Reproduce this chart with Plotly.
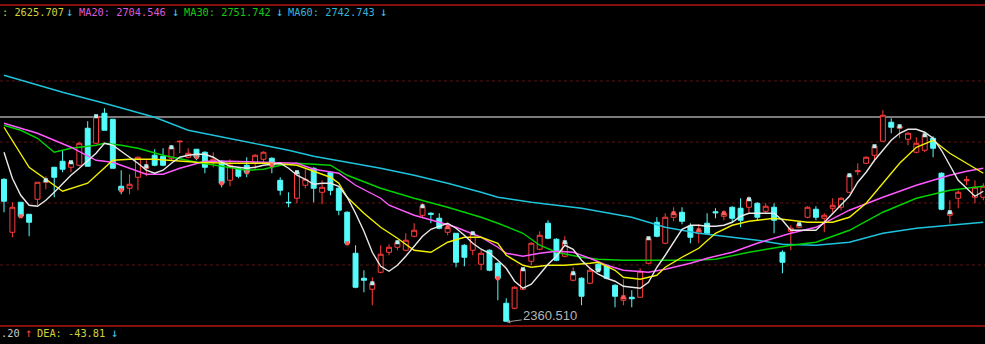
import plotly.graph_objects as go

# ---- candle data (bar index 0..117) ----
opens = [2646,2540,2600,2576,2606,2640,2670,2682,2670,2674,
         2748,2718,2778,2766,2632,2628,2650,2668,2694,2692,
         2688,2721,2690,2706,2700,2680,2682,2644,2668,2674,
         2678,2686,2688,2644,2600,2608,2634,2668,2620,2660,
         2628,2580,2498,2448,2426,2460,2500,2510,2504,2532,
         2574,2578,2568,2540,2538,2514,2504,2476,2504,2478,
         2398,2388,2426,2482,2506,2558,2526,2492,2444,2448,
         2438,2476,2474,2434,2404,2410,2410,2478,2560,2518,
         2570,2580,2552,2538,2558,2581,2572,2590,2588,2590,
         2598,2582,2590,2500,2542,2550,2570,2586,2568,2588,
         2590,2620,2661,2678,2694,2722,2760,2748,2726,2700,
         2704,2728,2658,2574,2608,2643,2610,2610]
closes = [2602,2590,2572,2560,2640,2644,2650,2666,2680,2718,
          2672,2772,2744,2668,2624,2636,2690,2672,2674,2674,
          2710,2722,2698,2690,2670,2686,2638,2674,2652,2660,
          2694,2700,2674,2624,2599,2660,2646,2628,2630,2624,
          2584,2518,2430,2444,2438,2496,2510,2520,2524,2544,
          2592,2576,2548,2550,2480,2490,2538,2498,2464,2448,
          2362,2430,2466,2518,2534,2528,2484,2520,2458,2412,
          2464,2464,2448,2412,2410,2407,2462,2528,2532,2570,
          2578,2562,2530,2544,2538,2579,2578,2568,2564,2606,
          2570,2592,2564,2480,2548,2556,2590,2570,2574,2594,
          2608,2654,2663,2690,2712,2774,2750,2752,2738,2718,
          2734,2708,2586,2580,2620,2645,2630,2632]
highs = [2648,2600,2600,2576,2640,2652,2670,2704,2682,2720,
         2762,2774,2788,2766,2664,2656,2692,2684,2706,2708,
         2714,2722,2708,2706,2702,2700,2684,2686,2670,2690,
         2696,2702,2690,2650,2620,2664,2666,2670,2644,2662,
         2630,2582,2514,2464,2450,2514,2516,2524,2538,2558,
         2598,2580,2578,2558,2538,2516,2540,2504,2506,2480,
         2408,2432,2468,2520,2542,2564,2528,2532,2470,2450,
         2470,2480,2476,2436,2446,2424,2468,2530,2570,2578,
         2590,2590,2558,2556,2578,2588,2584,2592,2608,2612,
         2600,2598,2598,2504,2554,2560,2592,2592,2578,2608,
         2610,2656,2678,2692,2714,2784,2768,2754,2740,2730,
         2740,2732,2660,2604,2624,2652,2644,2638]
lows = [2580,2530,2570,2532,2594,2626,2610,2660,2660,2672,
        2672,2718,2744,2668,2616,2616,2624,2652,2672,2672,
        2684,2698,2688,2684,2658,2670,2630,2632,2648,2650,
        2664,2678,2658,2614,2590,2598,2628,2600,2596,2614,
        2574,2514,2428,2420,2394,2458,2494,2504,2502,2530,
        2568,2558,2546,2534,2470,2472,2494,2464,2462,2404,
        2360.51,2386,2424,2474,2504,2526,2482,2490,2442,2394,
        2436,2462,2446,2390,2394,2390,2410,2476,2530,2516,
        2562,2556,2518,2518,2536,2568,2564,2560,2550,2578,
        2564,2578,2538,2458,2504,2548,2568,2564,2540,2580,
        2584,2618,2654,2676,2682,2722,2738,2728,2714,2698,
        2700,2690,2584,2558,2588,2634,2598,2604]
bars = list(range(len(opens)))

# small signal squares seen on some candles
mark_up_idx = [5, 8, 11, 17, 20, 35, 44, 47, 50, 56, 62, 67, 68, 71, 77, 89, 95, 101, 104, 107, 110, 113]
mark_dn_idx = [2, 14, 23, 26, 29, 32, 41, 53, 59, 74, 80, 83, 86]

# ---- moving averages ----
ma5 = [2700,2648,2614,2594,2592,2604,2620,2638,2654,2668,
       2684,2698,2718,2714,2702,2690,2678,2664,2658,2664,
       2678,2690,2694,2696,2696,2690,2680,2672,2670,2668,
       2670,2674,2676,2678,2668,2654,2646,2636,2638,2638,
       2632,2610,2578,2542,2500,2472,2462,2474,2492,2512,
       2532,2546,2552,2558,2548,2534,2518,2506,2498,2484,
       2468,2442,2428,2436,2456,2476,2492,2514,2506,2484,
       2468,2456,2448,2442,2432,2430,2428,2440,2470,2494,
       2520,2546,2554,2554,2552,2552,2554,2560,2572,2578,
       2578,2578,2578,2564,2544,2544,2544,2544,2560,2578,
       2594,2612,2640,2660,2684,2704,2724,2738,2746,2746,
       2740,2728,2704,2674,2644,2628,2612,2622]
ma10_idx = [0,3,7,10,13,15,18,21,23,27,30,32,35,36,39,40,41,43,45,47,49,51,53,55,57,59,60,
            62,63,65,67,70,71,73,74,76,78,79,81,83,85,87,89,92,96,99,101,103,105,107,109,111,
            113,115,117]
ma10_val = [2750,2670,2622,2638,2684,2686,2686,2682,2680,2678,2678,2678,2674,2668,2650,2638,
            2610,2578,2550,2528,2504,2500,2520,2530,2530,2518,2494,2474,2470,2474,2474,2478,
            2480,2464,2450,2446,2454,2470,2490,2508,2538,2554,2562,2568,2560,2560,2570,2598,
            2638,2678,2710,2724,2698,2678,2658]
ma20_idx = [0,4,8,11,13,15,17,19,20,21,24,27,31,35,37,40,42,45,46,49,52,54,57,59,60,62,64,
            66,68,70,72,74,77,79,82,84,87,90,94,97,101,105,109,113,115,117]
ma20_val = [2758,2738,2710,2684,2680,2668,2656,2656,2662,2668,2682,2682,2680,2678,2666,2658,
            2634,2608,2594,2574,2560,2550,2530,2510,2498,2492,2498,2502,2500,2488,2474,2464,
            2460,2466,2478,2488,2500,2518,2538,2550,2584,2610,2634,2654,2662,2668]
ma30_idx = [0,2,4,6,8,11,12,14,16,19,23,27,29,31,33,35,39,41,45,49,53,57,59,62,64,66,69,
            71,74,77,79,82,85,89,94,97,101,105,109,113,117]
ma30_val = [2754,2744,2728,2700,2708,2714,2718,2714,2708,2694,2680,2670,2664,2666,2674,2678,
            2674,2654,2628,2608,2590,2570,2558,2538,2514,2500,2490,2486,2484,2484,2484,2484,
            2486,2500,2514,2520,2544,2580,2608,2624,2632]
ma60_idx = [0,7,12,15,18,22,27,31,34,37,41,45,49,53,57,59,63,69,75,79,83,87,90,93,97,101,
            105,109,113,117]
ma60_val = [2854,2820,2798,2784,2770,2744,2728,2714,2704,2692,2680,2668,2654,2638,2620,2610,
            2600,2588,2570,2550,2538,2530,2524,2516,2514,2520,2538,2548,2554,2560]

low_label = "2360.510"
low_bar = 60
low_value = 2360.51

W, H = 985, 344
fig = go.Figure()

fig.add_trace(go.Candlestick(
    x=bars, open=opens, high=highs, low=lows, close=closes,
    increasing=dict(line=dict(color="#ff3c3c", width=1), fillcolor="#000000"),
    decreasing=dict(line=dict(color="#54fcfc", width=1), fillcolor="#54fcfc"),
    whiskerwidth=0, hoverinfo="skip"))

def ma_line(x, y, color):
    fig.add_trace(go.Scatter(x=x, y=y, mode="lines",
                             line=dict(color=color, width=1.4), hoverinfo="skip"))

ma_line(ma60_idx, ma60_val, "#1ec4dc")
ma_line(ma30_idx, ma30_val, "#00d200")
ma_line(ma20_idx, ma20_val, "#ff5aff")
ma_line(ma10_idx, ma10_val, "#f0f000")
ma_line(bars, ma5, "#e8e8e8")

fig.add_trace(go.Scatter(x=mark_up_idx, y=[closes[i] for i in mark_up_idx], mode="markers",
                         marker=dict(symbol="square", size=4, color="#b4f0f0",
                                     line=dict(width=0)), hoverinfo="skip"))
fig.add_trace(go.Scatter(x=mark_dn_idx, y=[closes[i] for i in mark_dn_idx], mode="markers",
                         marker=dict(symbol="square", size=4, color="#ff5a5a",
                                     line=dict(width=0)), hoverinfo="skip"))

def py(px):
    return 1 - px / H

shapes = []
for gy in [81, 142, 203, 265]:
    shapes.append(dict(type="line", xref="paper", yref="paper", x0=0, x1=1, y0=py(gy), y1=py(gy),
                       line=dict(color="#5a1212", width=1, dash="dot"), layer="below"))
shapes.append(dict(type="line", xref="paper", yref="paper", x0=0, x1=1, y0=py(117), y1=py(117),
                   line=dict(color="#7a7a7a", width=2), layer="below"))
for gy in [5, 326]:
    shapes.append(dict(type="line", xref="paper", yref="paper", x0=0, x1=1, y0=py(gy), y1=py(gy),
                       line=dict(color="#b01414", width=1.5)))

mono = "DejaVu Sans Mono, Liberation Mono, monospace"
ann = []
def txt(x, ypx, s, color, size=10.3, fam=mono):
    ann.append(dict(xref="paper", yref="paper", x=x / W, y=py(ypx), text=s, showarrow=False,
                    xanchor="left", yanchor="middle", font=dict(family=fam, size=size, color=color)))

txt(0, 12, ": 2625.707", "#d2d23c")
txt(64, 12, "↓", "#3cc8f0", 12)
txt(77, 12, "MA20: 2704.546", "#dc5adc")
txt(170, 12, "↓", "#3cc8f0", 12)
txt(182, 12, "MA30: 2751.742", "#14c814")
txt(274, 12, "↓", "#3cc8f0", 12)
txt(286, 12, "MA60: 2742.743", "#32b4dc")
txt(378, 12, "↓", "#3cc8f0", 12)

txt(-1, 333, ".20", "#c8c8c8")
txt(23, 333, "↑", "#ff3c3c", 12)
txt(35, 333, "DEA: -43.81", "#d2d23c")
txt(109, 333, "↓", "#3cc8f0", 12)

ann.append(dict(x=low_bar, y=low_value, xref="x", yref="y", text=low_label,
                showarrow=True, ax=44, ay=-6, arrowcolor="#9a9a9a", arrowhead=2,
                arrowsize=0.8, arrowwidth=1,
                font=dict(family="Liberation Sans, Arial, sans-serif", size=13, color="#b4b4b4")))

fig.update_layout(
    width=W, height=H, margin=dict(l=0, r=0, t=0, b=0),
    paper_bgcolor="#000000", plot_bgcolor="#000000",
    showlegend=False, boxgap=0.16,
    xaxis=dict(range=[-0.478, 117.2], visible=False, rangeslider=dict(visible=False), fixedrange=True),
    yaxis=dict(range=[2316.5, 3004.5], visible=False, fixedrange=True),
    shapes=shapes, annotations=ann)

fig.write_html("out.html")
